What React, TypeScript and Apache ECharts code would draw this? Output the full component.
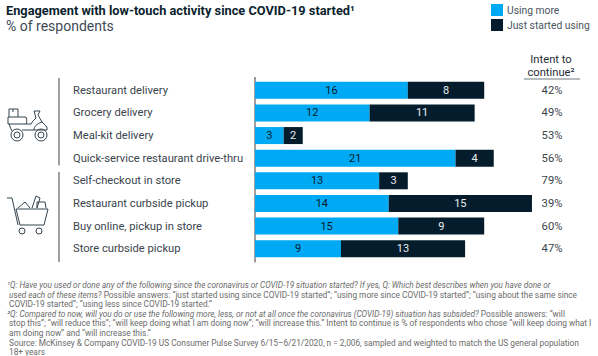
import React, { useEffect, useRef } from "react";
import * as echarts from "echarts";

const categories = ["Restaurant delivery", "Grocery delivery", "Meal-kit delivery", "Quick-service restaurant drive-thru", "Self-checkout in store", "Restaurant curbside pickup", "Buy online, pickup in store", "Store curbside pickup"];
const usingMore = [16, 12, 3, 21, 13, 14, 15, 9];
const justStarted = [8, 11, 2, 4, 3, 15, 9, 13];
const intent = ["42%", "49%", "53%", "56%", "79%", "39%", "60%", "47%"];
const footnoteLines: [string, string][] = [
  ["¹Q: Have you used or done any of the following since the coronavirus or COVID-19 situation started? If yes, Q: Which best describes when you have done or", ""],
  ["used each of these items?", " Possible answers: “just started using since COVID-19 started”; “using more since COVID-19 started”; “using about the same since"],
  ["", "COVID-19 started”; “using less since COVID-19 started.”"],
  ["²Q: Compared to now, will you do or use the following more, less, or not at all once the coronavirus (COVID-19) situation has subsided?", " Possible answers: “will"],
  ["", "stop this”; “will reduce this”; “will keep doing what I am doing now”; “will increase this.” Intent to continue is % of respondents who chose “will keep doing what I"],
  ["", "am doing now” and “will increase this.”"],
  ["", "Source: McKinsey & Company COVID-19 US Consumer Pulse Survey 6/15–6/21/2020, n = 2,006, sampled and weighted to match the US general population"],
  ["", "18+ years"],
];
const footnoteY = [285, 294.7, 304.3, 314, 323.4, 333, 342.7, 351.5];

const FONT = "Roboto";
const INK = "#051C2C";
const BLUE = "#00A9F4";
const TEXT = "#3a444c";
const scooterD = "M9 117 L9 109 L18 109 L18 117 M13 109 L13 112 M8 117 L26 117 C27 120 27 122 26 124 L8 124 Z M9 124 L11 129 M26 124 L31 124 L33 121 L36 118 L34 111 L40 111 L38 115 L42 122 L47 127 L47 130 L22 130 M11 129 L12 131 M42 122 C36 124 34 127 34 130 M11 135 a6 6 0 1 0 12 0 a6 6 0 1 0 -12 0 M14 135 a3 3 0 1 0 6 0 a3 3 0 1 0 -6 0 M35 135 a6 6 0 1 0 12 0 a6 6 0 1 0 -12 0 M38 135 a3 3 0 1 0 6 0 a3 3 0 1 0 -6 0";
const cartD = "M7 198 L12 198 L18 225 M16 209 L48 209 L44 225 L20 225 Z M18 208 L25 202 L30 208 M32 208 L36 196 L40 198 L37 208 M37 208 L37 202 L45 202 L46 208 M19 231 a3 3 0 1 0 6 0 a3 3 0 1 0 -6 0 M36 231 a3 3 0 1 0 6 0 a3 3 0 1 0 -6 0";
echarts.graphic.registerShape("scooterIcon", echarts.graphic.extendPath(scooterD, {}));
echarts.graphic.registerShape("cartIcon", echarts.graphic.extendPath(cartD, {}));

export default function App() {
  const ref = useRef<HTMLDivElement>(null);
  useEffect(() => {
    document.body.style.margin = "0";
    const chart = echarts.init(ref.current!, undefined, { renderer: "svg" });
    const barLabel = (color: string) => ({ show: true, position: "inside" as const, color, fontFamily: FONT, fontSize: 11 });
    const t = (x: number, y: number, text: string, o: any = {}) => ({
      type: "text", x, y,
      style: { text, fontFamily: FONT, fontSize: 11.2, fill: TEXT, textVerticalAlign: "middle", ...o },
    });
    chart.setOption({
      animation: false,
      backgroundColor: "#fff",
      legend: {
        left: 486, top: -1, orient: "vertical", itemWidth: 12, itemHeight: 12, itemGap: 3, icon: "rect",
        textStyle: { fontFamily: FONT, fontSize: 10.3, color: "#4a555d", padding: [0, 0, 0, -1] },
        data: ["Using more", "Just started using"],
      },
      grid: { left: 255, top: 79, width: 286.5, height: 181 },
      xAxis: { type: "value", min: 0, max: 30, show: false },
      yAxis: [
        {
          type: "category", inverse: true, data: categories,
          axisTick: { show: false },
          axisLine: { lineStyle: { color: "#7f7f7f", width: 1.5 } },
          axisLabel: { align: "left", margin: 182, color: TEXT, fontFamily: FONT, fontSize: 11.2 },
        },
        {
          type: "category", inverse: true, position: "right", data: intent,
          axisTick: { show: false }, axisLine: { show: false },
          axisLabel: { align: "center", margin: 10.5, color: TEXT, fontFamily: FONT, fontSize: 11.2 },
        },
      ],
      series: [
        { name: "Using more", type: "bar", stack: "a", barWidth: 17, data: usingMore, itemStyle: { color: BLUE }, label: barLabel(INK) },
        { name: "Just started using", type: "bar", stack: "a", barWidth: 17, data: justStarted, itemStyle: { color: INK }, label: barLabel("#e8eef2") },
      ],
      graphic: [
        t(6, 10, "Engagement with low-touch activity since COVID-19 started¹", { fontSize: 12.8, fontWeight: "bold", fill: "#0b1f2e" }),
        t(6, 26, "% of respondents", { fontSize: 14, fill: "#3d4a55" }),
        t(551, 59, "Intent to", { textAlign: "center", fill: "#1f2d37" }),
        t(551, 72.5, "continue²", { textAlign: "center", fill: "#1f2d37" }),
        { type: "line", shape: { x1: 524, y1: 79, x2: 580, y2: 79 }, style: { stroke: "#6f7a82", lineWidth: 1 } },
        { type: "line", shape: { x1: 59, y1: 78, x2: 59, y2: 165.5 }, style: { stroke: "#7f7f7f", lineWidth: 1.5 } },
        { type: "line", shape: { x1: 59, y1: 172, x2: 59, y2: 262 }, style: { stroke: "#7f7f7f", lineWidth: 1.5 } },
        { type: "line", shape: { x1: 255, y1: 260, x2: 255, y2: 262.5 }, style: { stroke: "#7f7f7f", lineWidth: 1.5 } },
        { type: "line", shape: { x1: 255, y1: 77, x2: 255, y2: 79 }, style: { stroke: "#7f7f7f", lineWidth: 1.5 } },
        { type: "scooterIcon", x: 0, y: 0, style: { stroke: "#33444f", fill: "none", lineWidth: 1 } },
        { type: "cartIcon", x: 0, y: 0, style: { stroke: "#33444f", fill: "none", lineWidth: 1 } },
        ...footnoteLines.map(([italic, plain], i) => ({
          type: "text", x: i === 0 || i === 3 ? 7 : 9, y: footnoteY[i],
          style: {
            text: (italic ? `{i|${italic}}` : "") + (plain ? `{p|${plain}}` : ""),
            textVerticalAlign: "middle",
            rich: {
              i: { fontFamily: FONT, fontSize: 8.2, fontStyle: "italic", fill: "#6b6b6b", color: "#6b6b6b" },
              p: { fontFamily: FONT, fontSize: 8.3, fill: "#6b6b6b", color: "#6b6b6b" },
            },
          },
        })),
      ],
    });
    return () => chart.dispose();
  }, []);
  return <div ref={ref} style={{ width: 598, height: 356 }} />;
}
